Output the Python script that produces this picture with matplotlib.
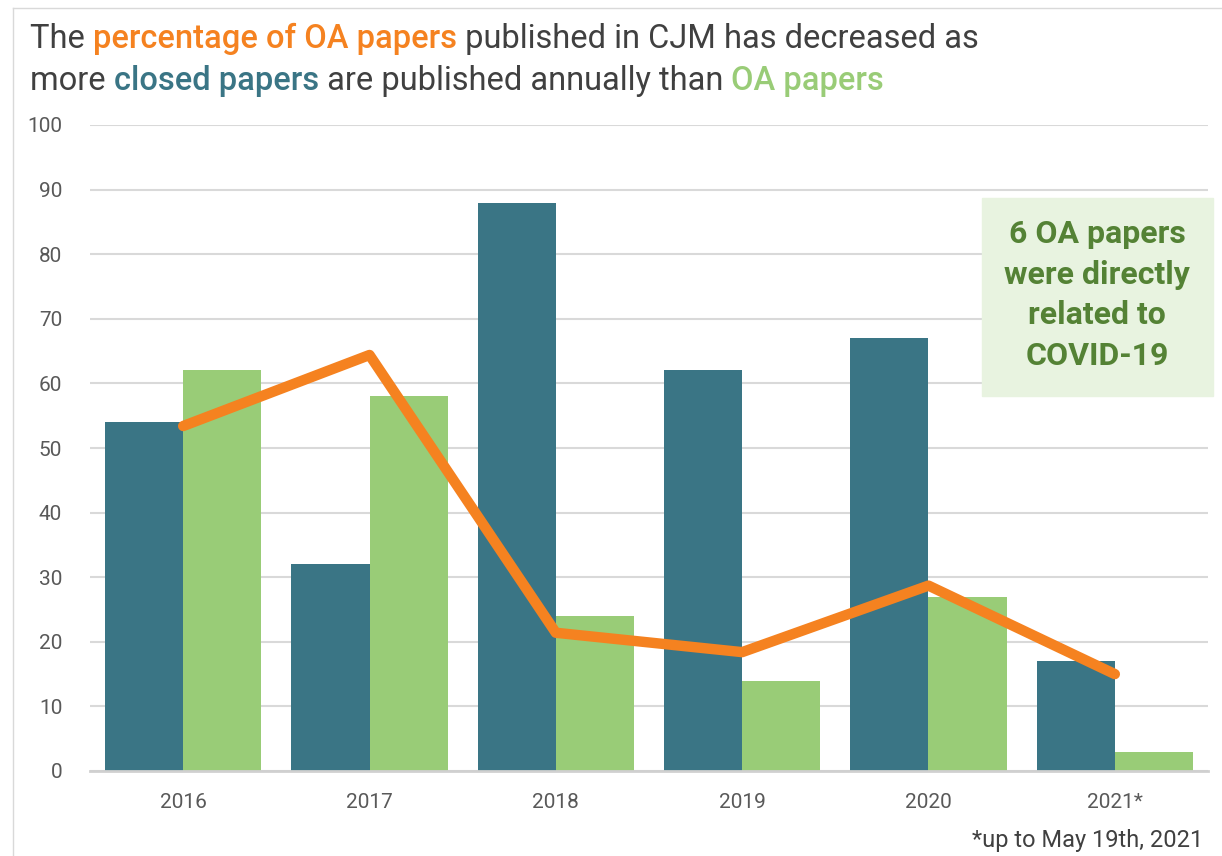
import matplotlib.pyplot as plt
import numpy as np
from matplotlib.patches import Rectangle
from matplotlib.lines import Line2D

plt.rcParams['font.family'] = ['Roboto', 'DejaVu Sans']

# data
years = ['2016', '2017', '2018', '2019', '2020', '2021*']
closed_papers = [54, 32, 88, 62, 67, 17]
oa_papers = [62, 58, 24, 14, 27, 3]
oa_percent = [53.4, 64.4, 21.4, 18.4, 28.7, 15.0]

teal = '#3a7585'
green = '#99cc77'
orange = '#f58220'
dark_green = '#548235'
grey_txt = '#595959'

fig = plt.figure(figsize=(12.22, 8.56), dpi=100)
ax = fig.add_axes([90 / 1222, 85 / 856, 1118 / 1222, 646 / 856])

x = np.arange(len(years))
w = 0.42
ax.bar(x - w / 2, closed_papers, width=w, color=teal, zorder=2)
ax.bar(x + w / 2, oa_papers, width=w, color=green, zorder=2)
ax.plot(x, oa_percent, color=orange, lw=7.5, solid_capstyle='round',
        solid_joinstyle='round', zorder=3)

ax.set_xlim(-0.5, len(years) - 0.5)
ax.set_ylim(0, 100)
ax.set_yticks(range(0, 101, 10))
ax.set_xticks(x)
ax.set_xticklabels(years)
ax.grid(axis='y', color='#d9d9d9', lw=1.5, zorder=0)
for s in ['top', 'right', 'left']:
    ax.spines[s].set_visible(False)
ax.spines['bottom'].set_color('#d0d0d0')
ax.spines['bottom'].set_linewidth(2)
ax.spines['bottom'].set_zorder(4)
ax.tick_params(axis='both', length=0, labelsize=15, labelcolor=grey_txt)
ax.tick_params(axis='y', pad=20)
ax.tick_params(axis='x', pad=16)

# coloured title, built piece by piece
title_parts = [
    [("The ", '#404040', 'normal'), ("percentage of OA papers", orange, 'medium'),
     (" published in CJM has decreased as", '#404040', 'normal')],
    [("more ", '#404040', 'normal'), ("closed papers", teal, 'medium'),
     (" are published annually than ", '#404040', 'normal'),
     ("OA papers", green, 'medium')],
]
for row, y in zip(title_parts, [0.944, 0.895]):
    prev = None
    for txt, col, wt in row:
        if prev is None:
            prev = fig.text(30 / 1222, y, txt, color=col, fontsize=23.5,
                            fontweight=wt)
        else:
            prev = ax.annotate(txt, xy=(1, 0), xycoords=prev, va='bottom',
                               ha='left', color=col, fontsize=23.5,
                               fontweight=wt, annotation_clip=False)

# callout box
fig.patches.append(Rectangle((982 / 1222, (856 - 396) / 856), 231 / 1222, 198 / 856,
                             transform=fig.transFigure, color='#e8f3e0', zorder=5))
fig.text(1097 / 1222, (856 - 295) / 856,
         "6 OA papers\nwere directly\nrelated to\nCOVID-19",
         ha='center', va='center', color=dark_green, fontsize=23,
         fontweight='bold', linespacing=1.45, zorder=6)

fig.text(1203 / 1222, (856 - 840) / 856, "*up to May 19th, 2021",
         ha='right', va='center', color='#404040', fontsize=17)

# thin frame at top and left
fig.add_artist(Line2D([13 / 1222, 13 / 1222], [0, (856 - 8) / 856],
                      transform=fig.transFigure, color='#d9d9d9', lw=1))
fig.add_artist(Line2D([13 / 1222, 1], [(856 - 8) / 856, (856 - 8) / 856],
                      transform=fig.transFigure, color='#d9d9d9', lw=1))

fig.savefig('out.png', dpi=100)
